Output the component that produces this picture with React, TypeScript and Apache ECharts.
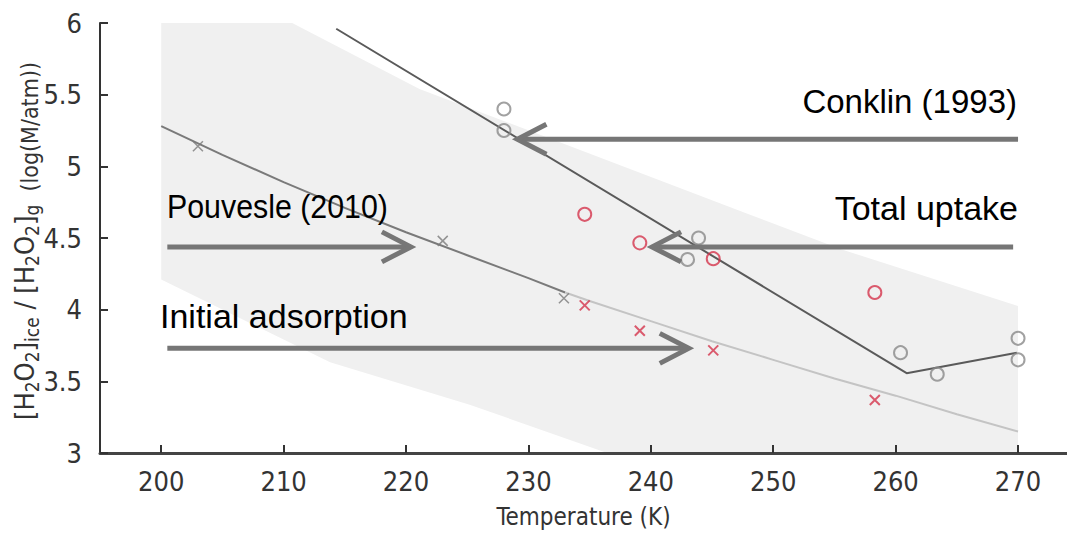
import React, { useEffect, useRef } from 'react';
import * as echarts from 'echarts';

// ---- data ----
const xTickValues = [200, 210, 220, 230, 240, 250, 260, 270];

// Conklin (1993) measurements (grey circles)
const conklinObs = [
  [228, 5.4], [228, 5.25], [243.9, 4.5], [243.0, 4.35],
  [260.4, 3.7], [263.4, 3.55], [270, 3.8], [270, 3.65],
];
// total uptake (red circles)
const uptakeObs = [[234.6, 4.665], [239.1, 4.466], [245.1, 4.356], [258.3, 4.12]];
// initial adsorption (red crosses)
const initialObs = [[234.6, 4.03], [239.1, 3.853], [245.1, 3.716], [258.3, 3.37]];
// Pouvesle (2010) (grey crosses)
const pouvesleObs = [[203, 5.14], [223, 4.48], [232.9, 4.08]];

// fitted curves
const pouvesleFitDark = [
  [200, 5.28], [205, 5.08], [210, 4.89], [215, 4.71], [220, 4.54],
  [225, 4.38], [230, 4.22], [233, 4.12],
];
const pouvesleFitLight = [
  [233, 4.12], [235, 4.06], [240, 3.92], [245, 3.78], [250, 3.65],
  [255, 3.52], [260, 3.4], [265, 3.27], [270, 3.15],
];
const conklinFit = [[214.3, 5.96], [260.9, 3.557], [269.9, 3.7]];

// shaded uncertainty band
const bandUpper = [
  [200, 6.47], [210.7, 6.0], [221.1, 5.54], [228.2, 5.31],
  [248, 4.665], [255.6, 4.42], [270, 4.025],
];
const bandLower = [
  [200, 4.21], [213.8, 3.633], [225.2, 3.337], [236.2, 3.007], [270, 2.2],
];

// annotation arrows: [fromT, toT, y]
const arrows = [
  [270.0, 229.1, 5.189],
  [269.6, 240.1, 4.438],
  [200.5, 220.4, 4.438],
  [200.5, 243.1, 3.73],
];

const GREY = '#8a8a8a';
const RED = '#d4344c';
const TICK_FONT = '"DejaVu Sans Condensed", "Liberation Sans Narrow", "DejaVu Sans", sans-serif';
const NOTE_FONT = '"Liberation Sans", Arial, sans-serif';

export default function App() {
  const ref = useRef<HTMLDivElement>(null);
  useEffect(() => {
    if (!ref.current) return;
    const chart = echarts.init(ref.current, undefined, { renderer: 'svg' });
    const crossPath = 'path://M0,0L10,10M10,0L0,10';
    const note = (text: string, x: number, y: number, align: string, size: number, sx: number) => ({
      type: 'text', x, y, z: 100, scaleX: sx,
      style: { text, align, verticalAlign: 'middle', font: `${size}px ${NOTE_FONT}`, fill: '#000' },
    });
    const option: any = {
      animation: false,
      backgroundColor: '#fff',
      grid: { left: 100, top: 23, right: -2, bottom: 72, containLabel: false },
      xAxis: {
        type: 'value',
        min: 195,
        max: 274,
        axisLine: { show: true, onZero: false, lineStyle: { color: '#444', width: 3 } },
        axisTick: { show: true, inside: true, length: 8, customValues: xTickValues, lineStyle: { color: '#333', width: 2 } },
        axisLabel: { customValues: xTickValues, fontSize: 27, fontFamily: TICK_FONT, color: '#333', margin: 15 },
        splitLine: { show: false },
        name: 'Temperature (K)',
        nameLocation: 'middle',
        nameGap: 52,
        nameTextStyle: { fontSize: 24, fontFamily: TICK_FONT, color: '#333' },
      },
      yAxis: {
        type: 'value',
        min: 3,
        max: 6,
        interval: 0.5,
        axisLine: { show: true, lineStyle: { color: '#333', width: 2 } },
        axisTick: { show: true, inside: true, length: 8, lineStyle: { color: '#333', width: 2 } },
        axisLabel: { fontSize: 27, fontFamily: TICK_FONT, color: '#333', margin: 18 },
        splitLine: { show: false },
      },
      graphic: [
        {
          type: 'text',
          x: 24,
          y: 241,
          z: 100,
          rotation: Math.PI / 2,
          style: {
            text: '{m|[H}{s|2}{m|O}{s|2}{m|]}{s|ice}{m| / [H}{s|2}{m|O}{s|2}{m|]}{s|g}{u|  (log(M/atm))}',
            align: 'center',
            verticalAlign: 'middle',
            fill: '#333',
            rich: {
              m: { fontSize: 27, lineHeight: 35, verticalAlign: 'middle', fontFamily: TICK_FONT, fill: '#333' },
              s: { fontSize: 19, lineHeight: 18, verticalAlign: 'bottom', fontFamily: TICK_FONT, fill: '#333' },
              u: { fontSize: 23, lineHeight: 31, verticalAlign: 'bottom', fontFamily: TICK_FONT, fill: '#333' },
            },
          },
        },
        note('Conklin (1993)', 1017, 101, 'right', 33, 1),
        note('Total uptake', 1018, 208, 'right', 34, 1),
        note('Pouvesle (2010)', 167, 207, 'left', 33, 0.92),
        note('Initial adsorption', 160, 316, 'left', 34, 1),
      ],
      series: [
        {
          type: 'custom',
          name: 'band',
          clip: true,
          silent: true,
          z: 0,
          data: [0],
          renderItem: (params: any, api: any) => {
            const pts: number[][] = [];
            bandUpper.forEach((p) => pts.push(api.coord(p)));
            for (let i = bandLower.length - 1; i >= 0; i--) pts.push(api.coord(bandLower[i]));
            return { type: 'polygon', shape: { points: pts }, style: { fill: '#f0f0f0', stroke: 'none' } };
          },
        },
        {
          type: 'line', name: 'Pouvesle fit', data: pouvesleFitDark, showSymbol: false, z: 2,
          lineStyle: { color: '#7a7a7a', width: 2 },
        },
        {
          type: 'line', name: 'Pouvesle fit ext', data: pouvesleFitLight, showSymbol: false, z: 2,
          lineStyle: { color: '#c4c4c4', width: 2 },
        },
        {
          type: 'line', name: 'Conklin fit', data: conklinFit, showSymbol: false, z: 3,
          lineStyle: { color: '#5a5a5a', width: 2 },
        },
        {
          type: 'scatter', name: 'Conklin (1993)', data: conklinObs, symbol: 'circle', symbolSize: 13, z: 4,
          itemStyle: { color: 'rgba(0,0,0,0)', borderColor: GREY, borderWidth: 2 },
        },
        {
          type: 'scatter', name: 'Total uptake', data: uptakeObs, symbol: 'circle', symbolSize: 13, z: 4,
          itemStyle: { color: 'rgba(0,0,0,0)', borderColor: RED, borderWidth: 2 },
        },
        {
          type: 'scatter', name: 'Initial adsorption', data: initialObs, symbol: crossPath, symbolSize: 10, z: 4,
          itemStyle: { color: 'none', borderColor: RED, borderWidth: 2 },
        },
        {
          type: 'scatter', name: 'Pouvesle (2010)', data: pouvesleObs, symbol: crossPath, symbolSize: 10, z: 4,
          itemStyle: { color: 'none', borderColor: '#7a7a7a', borderWidth: 1.5 },
        },
        {
          type: 'custom',
          name: 'arrows',
          clip: false,
          silent: true,
          z: 5,
          data: arrows,
          encode: { x: [0, 1], y: 2 },
          renderItem: (params: any, api: any) => {
            const p0 = api.coord([api.value(0), api.value(2)]);
            const p1 = api.coord([api.value(1), api.value(2)]);
            const dir = p1[0] > p0[0] ? 1 : -1;
            const hx = 29, hy = 15;
            const st = { stroke: '#767676', lineWidth: 5, fill: 'none' };
            return {
              type: 'group',
              children: [
                { type: 'line', shape: { x1: p0[0], y1: p0[1], x2: p1[0] - dir * 2, y2: p1[1] }, style: st },
                {
                  type: 'polyline',
                  shape: { points: [[p1[0] - dir * hx, p1[1] - hy], [p1[0], p1[1]], [p1[0] - dir * hx, p1[1] + hy]] },
                  style: { ...st, lineJoin: 'miter' },
                },
              ],
            };
          },
        },
      ],
    };
    chart.setOption(option);
    return () => chart.dispose();
  }, []);
  return <div ref={ref} style={{ position: 'fixed', left: 0, top: 0, width: 1067, height: 534 }} />;
}
